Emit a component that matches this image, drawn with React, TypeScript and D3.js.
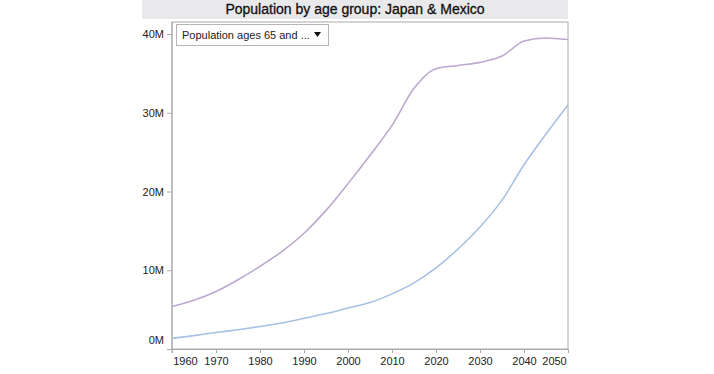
import { useEffect, useRef } from 'react';
import * as d3 from 'd3';

const years = [1960, 1965, 1970, 1975, 1980, 1985, 1990, 1995, 2000, 2005, 2010, 2015, 2020, 2025, 2030, 2035, 2040, 2045, 2050];
const japan = [5.4, 6.2, 7.3, 8.8, 10.5, 12.4, 14.7, 17.6, 21.0, 24.6, 28.4, 33.1, 35.6, 36.0, 36.4, 37.2, 39.1, 39.5, 39.3];
const mexico = [1.35, 1.7, 2.1, 2.45, 2.85, 3.3, 3.9, 4.5, 5.2, 5.9, 7.0, 8.4, 10.3, 12.7, 15.5, 18.9, 23.4, 27.3, 31.0];
const xTicks = [1960, 1970, 1980, 1990, 2000, 2010, 2020, 2030, 2040, 2050];
const yTicks = [0, 10, 20, 30, 40];

export default function App() {
  const svgRef = useRef<SVGSVGElement>(null);

  useEffect(() => {
    if (!svgRef.current) return;
    const svg = d3.select(svgRef.current);
    svg.selectAll('*').remove();

    const width = 714;
    const height = 374;
    const left = 172;
    const right = 568;
    const top = 22;
    const bottom = 349;
    const font = 'Arial, "Liberation Sans", sans-serif';

    svg.attr('width', width).attr('height', height);

    // title bar
    svg.append('rect').attr('x', 142).attr('y', 0).attr('width', 426).attr('height', 19).attr('fill', '#e9e9eb');
    svg
      .append('text')
      .attr('x', 355)
      .attr('y', 14)
      .attr('text-anchor', 'middle')
      .style('font-family', font)
      .style('font-size', '14px')
      .style('fill', '#111')
      .style('stroke', '#111')
      .style('stroke-width', 0.3)
      .text('Population by age group: Japan & Mexico');

    const x = d3.scaleLinear().domain([1960, 2050]).range([left, right]);
    const y = d3.scaleLinear().domain([0, 40]).range([bottom, 34]);

    // plot frame
    svg
      .append('rect')
      .attr('x', left)
      .attr('y', top)
      .attr('width', right - left)
      .attr('height', bottom - top)
      .attr('fill', 'none')
      .attr('stroke', '#aaa')
      .attr('stroke-width', 1);

    // y axis
    const yAxis = svg
      .append('g')
      .attr('transform', `translate(${left},0)`)
      .call(
        d3
          .axisLeft(y)
          .tickValues(yTicks)
          .tickSize(5)
          .tickPadding(3)
          .tickFormat((d) => `${d}M`)
      );
    yAxis.select('.domain').attr('stroke', '#aaa').attr('d', `M0,${top}V${bottom + 4}`);
    yAxis.selectAll('line').attr('stroke', '#aaa');
    yAxis
      .selectAll('text')
      .style('font-family', font)
      .style('font-size', '11px')
      .style('fill', '#222')
      .attr('dy', (d) => (d === 0 ? '-0.5em' : '0.32em'));

    // x axis
    const xAxis = svg
      .append('g')
      .attr('transform', `translate(0,${bottom})`)
      .call(d3.axisBottom(x).tickValues(xTicks).tickSize(4).tickPadding(4).tickFormat((d) => String(d)));
    xAxis.select('.domain').attr('stroke', '#aaa');
    xAxis.selectAll('line').attr('stroke', '#aaa');
    xAxis
      .selectAll('text')
      .style('font-family', font)
      .style('font-size', '11px')
      .style('fill', '#222')
      .attr('dx', (d) => (d === 1960 ? 13 : d === 2050 ? -14 : 0));

    // lines
    const line = d3
      .line<number>()
      .x((_, i) => x(years[i]))
      .y((d) => y(d))
      .curve(d3.curveMonotoneX);

    svg
      .append('path')
      .datum(mexico)
      .attr('fill', 'none')
      .attr('stroke', '#a9c0e3')
      .attr('stroke-width', 1.6)
      .attr('d', line);

    svg
      .append('path')
      .datum(japan)
      .attr('fill', 'none')
      .attr('stroke', '#bba9d0')
      .attr('stroke-width', 1.6)
      .attr('d', line);

    // dropdown
    const dd = svg.append('g').attr('transform', 'translate(176,24)');
    dd.append('rect')
      .attr('x', 0.5)
      .attr('y', 0.5)
      .attr('width', 152)
      .attr('height', 21)
      .attr('fill', '#fff')
      .attr('stroke', '#b5b5b5');
    dd.append('text')
      .attr('x', 6)
      .attr('y', 15)
      .style('font-family', font)
      .style('font-size', '11px')
      .style('fill', '#222')
      .text('Population ages 65 and ...');
    dd.append('path').attr('d', 'M138,8 L145,8 L141.5,13 Z').attr('fill', '#111');
  }, []);

  return <svg ref={svgRef} style={{ position: 'absolute', left: 0, top: 0 }} />;
}
